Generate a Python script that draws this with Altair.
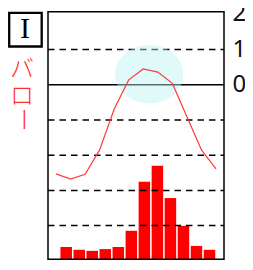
import altair as alt
import pandas as pd

# ---- data ----
months = list(range(12))  # Jan..Dec as 0..11
temps = [-25.3, -26.8, -25.4, -18.5, -6.9, 1.4, 4.5, 3.6, 0.4, -9.1, -18.5, -23.9]
precip = [3.5, 2.7, 2.4, 2.9, 3.5, 8.1, 22.0, 26.6, 17.4, 9.5, 3.8, 2.7]
dashed_grid = [-40, -30, -20, -10, 10]
solid_grid = [0]
right_labels = ["20", "10", "0"]
right_label_vals = [20, 10, 0]
place_chars = ["バ", "ロ"]
place_last = "ー"
panel_label = ["I"]

# ---- layout (chart coordinates = page - 8) ----
W, H = 237, 254
PL, PR, PT, PB = 40, 216, 3.7, 251.3

y_temp = alt.Scale(domain=[-50, 20], range=[252.8, 6.4], nice=False, zero=False)
x_line = alt.Scale(domain=[0, 11], range=[48, 208], nice=False, zero=False)
x_bar = alt.Scale(domain=[0, 11], range=[53.2, 206.5], nice=False, zero=False)
y_pr = alt.Scale(domain=[0, 70], range=[PB, PB - 3.52 * 70], nice=False)

one = pd.DataFrame({"a": [0]})
df = pd.DataFrame({"m": months, "t": temps, "p": precip})

bars = alt.Chart(df).mark_bar(color="#ff0000", width=11.5).encode(
    x=alt.X("m:Q", scale=x_bar, axis=None),
    y=alt.Y("p:Q", scale=y_pr, axis=None),
)

grid_d = alt.Chart(pd.DataFrame({"g": dashed_grid})).mark_rule(
    color="#000000", strokeWidth=1.5, strokeDash=[6.5, 5]
).encode(
    y=alt.Y("g:Q", scale=y_temp, axis=None),
    x=alt.value(PL), x2=alt.value(PR),
)

grid_s = alt.Chart(pd.DataFrame({"g": solid_grid})).mark_rule(
    color="#000000", strokeWidth=1.5
).encode(
    y=alt.Y("g:Q", scale=y_temp, axis=None),
    x=alt.value(PL), x2=alt.value(PR),
)

frame = alt.Chart(one).mark_rect(fill="transparent", stroke="#000000", strokeWidth=1.5).encode(
    x=alt.value(PL), x2=alt.value(PR), y=alt.value(PT), y2=alt.value(PB)
)

ellipse_path = "M -1 0 A 1 0.854 0 1 1 1 0 A 1 0.854 0 1 1 -1 0 Z"
ellipse = alt.Chart(one).mark_point(
    shape=ellipse_path, size=4679, filled=True, fill="#bbf4f4", opacity=0.45, strokeWidth=0
).encode(x=alt.value(141.2), y=alt.value(66.2))

line = alt.Chart(df).mark_line(color="#ff3b3b", strokeWidth=1.2).encode(
    x=alt.X("m:Q", scale=x_line, axis=None),
    y=alt.Y("t:Q", scale=y_temp, axis=None),
)

rlabels = alt.Chart(pd.DataFrame({"v": right_label_vals, "s": right_labels})).mark_text(
    align="left", baseline="middle", fontSize=24, font="Noto Sans", color="#111111"
).encode(
    x=alt.value(224.5),
    y=alt.Y("v:Q", scale=y_temp, axis=None),
    text="s:N",
)

box = alt.Chart(one).mark_rect(fill="transparent", stroke="#000000", strokeWidth=2.3).encode(
    x=alt.value(1.2), x2=alt.value(33.7), y=alt.value(4.9), y2=alt.value(38.5)
)

box_text = alt.Chart(pd.DataFrame({"s": panel_label})).mark_text(
    align="center", baseline="middle", fontSize=30, font="Liberation Serif", color="#000000"
).encode(x=alt.value(17), y=alt.value(21), text="s:N")

# vertical place name: first two characters as one two-line text
jp = alt.Chart(one).mark_text(
    align="center", baseline="alphabetic", fontSize=24, font="Noto Sans CJK JP",
    fontWeight=300, color="#ff3030", lineHeight=26.5
).encode(x=alt.value(14), y=alt.value(69.2), text=alt.value(place_chars))

jp_last = alt.Chart(one).mark_text(
    align="center", baseline="middle", fontSize=24, font="Noto Sans CJK JP",
    fontWeight=300, color="#ff3030", angle=90
).encode(x=alt.value(14), y=alt.value(111.5), text=alt.value(place_last))

bottom_box = alt.Chart(one).mark_rect(fill="transparent", stroke="#000000", strokeWidth=2).encode(
    x=alt.value(10), x2=alt.value(244.3), y=alt.value(259.5), y2=alt.value(330)
)

chart = alt.layer(
    bars, grid_d, grid_s, frame, ellipse, line, rlabels, box, box_text, jp, jp_last, bottom_box
).resolve_scale(x="independent", y="independent").properties(
    width=W, height=H, autosize=alt.AutoSizeParams(type="none"), padding=0
).configure_view(stroke=None)

chart.save("out.html", embed_options={"renderer": "svg", "actions": False})
